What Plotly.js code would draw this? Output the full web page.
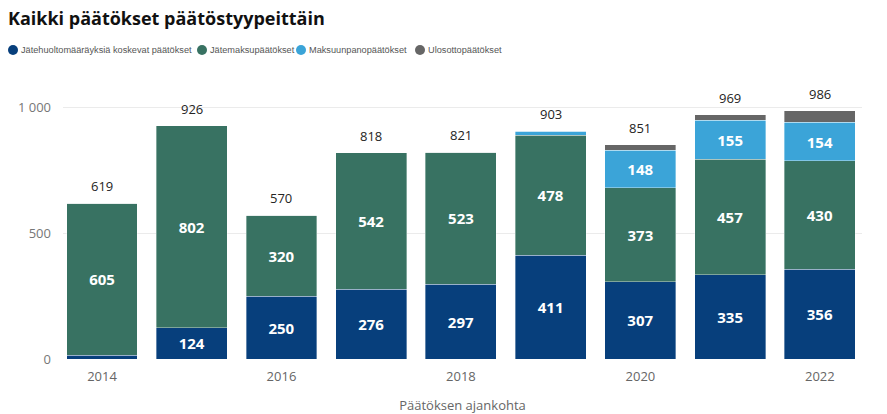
<!DOCTYPE html>
<html>
<head>
<meta charset="utf-8">
<script src="https://cdn.plot.ly/plotly-3.0.1.min.js"></script>
<style>html,body{margin:0;padding:0;background:#fff;}#chart{width:887px;height:414px;}</style>
</head>
<body>
<div id="chart"></div>
<script>
const years = [2014, 2015, 2016, 2017, 2018, 2019, 2020, 2021, 2022];
const jatehuolto = [14, 124, 250, 276, 297, 411, 307, 335, 356];
const jatemaksu = [605, 802, 320, 542, 523, 478, 373, 457, 430];
const maksuunpano = [0, 0, 0, 0, 1, 14, 148, 155, 154];
const ulosotto = [0, 0, 0, 0, 0, 0, 23, 22, 46];
const totals = [619, 926, 570, 818, 821, 903, 851, 969, 986];
const seriesNames = ["Jätehuoltomääräyksiä koskevat päätökset", "Jätemaksupäätökset", "Maksuunpanopäätökset", "Ulosottopäätökset"];
const colors = ["#073f7c", "#387262", "#3ba4d8", "#666666"];
const xTicks = [2014, 2016, 2018, 2020, 2022];

// layout geometry (pixels)
const M = {l: 63, r: 25, t: 100, b: 55};
const W = 887, H = 414;
const pw = W - M.l - M.r, ph = H - M.t - M.b;
const px2x = p => (p - M.l) / pw;
const py2y = p => 1 - (p - M.t) / ph;
const legendCircleX = [13, 202, 301, 420];
const legendY = 50;

const series = [jatehuolto, jatemaksu, maksuunpano, ulosotto];
const traces = [];
series.forEach((vals, i) => {
  traces.push({
    type: 'bar', x: years, y: vals, name: seriesNames[i], showlegend: false,
    marker: {color: colors[i], line: {width: 0.6, color: 'rgba(255,255,255,0.6)'}},
    text: vals.map(v => v >= 60 ? String(v) : ''),
    textposition: 'inside', insidetextanchor: 'middle',
    textfont: {color: '#ffffff', size: 15, family: 'Open Sans, sans-serif', weight: 'bold'},
    width: 0.79, hoverinfo: 'skip'
  });
});

const annotations = totals.map((t, i) => ({
  x: years[i], y: t, xref: 'x', yref: 'y', text: String(t), showarrow: false,
  yanchor: 'middle', yshift: 17,
  font: {color: '#252423', size: 13, family: 'Open Sans, sans-serif'}
}));
const shapes = [];
seriesNames.forEach((n, i) => {
  shapes.push({type: 'circle', xref: 'paper', yref: 'paper', xsizemode: 'pixel', ysizemode: 'pixel',
    xanchor: px2x(legendCircleX[i]), yanchor: py2y(legendY), x0: -5, x1: 5, y0: -5, y1: 5,
    fillcolor: colors[i], line: {width: 0}});
  annotations.push({xref: 'paper', yref: 'paper', x: px2x(legendCircleX[i] + 6), y: py2y(legendY),
    xanchor: 'left', yanchor: 'middle', text: n, showarrow: false,
    font: {size: 9.2, color: '#555555', family: 'Liberation Sans, Arial, sans-serif'}});
});

const layout = {
  width: W, height: H,
  margin: M,
  paper_bgcolor: '#ffffff', plot_bgcolor: '#ffffff',
  barmode: 'stack', showlegend: false,
  title: {text: '<b>Kaikki päätökset päätöstyypeittäin</b>', x: 0.009, xanchor: 'left', y: 0.955, yanchor: 'middle',
    font: {size: 18, color: '#111111', family: 'Open Sans, sans-serif'}},
  xaxis: {range: [2013.565, 2022.47], tickvals: xTicks, ticktext: xTicks.map(String),
    showgrid: false, zeroline: false, showline: false, ticks: '', ticklabelstandoff: 8,
    tickfont: {size: 13, color: '#666666', family: 'Open Sans, sans-serif'},
    title: {text: 'Päätöksen ajankohta', standoff: 16, font: {size: 13, color: '#666666', family: 'Open Sans, sans-serif'}}},
  yaxis: {range: [0, 1028], tickvals: [0, 500, 1000], ticktext: ['0', '500', '1 000'],
    showgrid: true, gridcolor: '#ebebeb', gridwidth: 1, zeroline: false, showline: false, ticks: '',
    ticklabelstandoff: 11,
    tickfont: {size: 13, color: '#777777', family: 'Open Sans, sans-serif'}},
  annotations: annotations, shapes: shapes
};

Plotly.newPlot('chart', traces, layout, {displayModeBar: false, staticPlot: true});
</script>
</body>
</html>
